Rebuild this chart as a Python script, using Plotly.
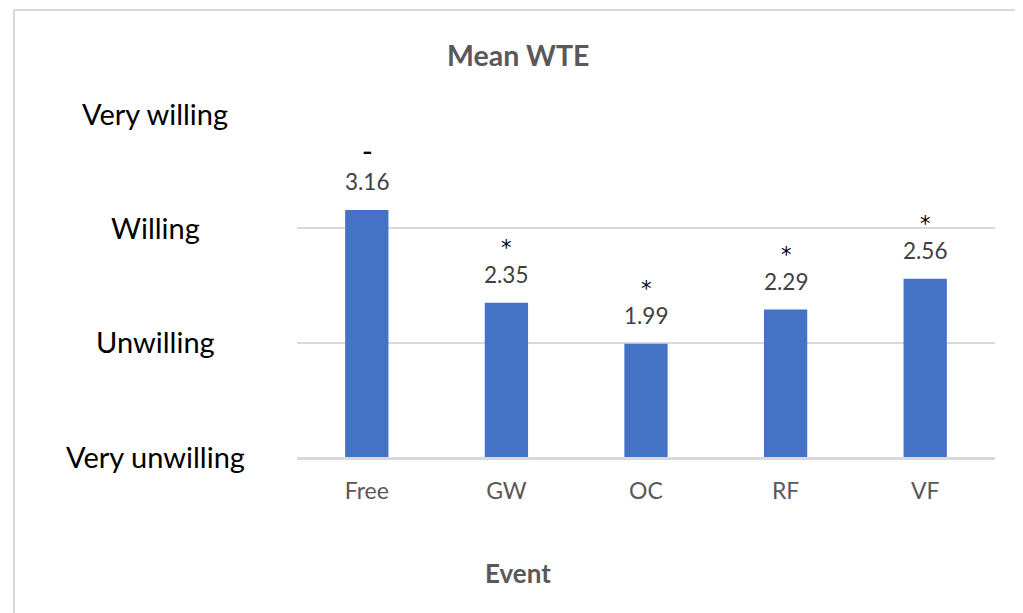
import plotly.graph_objects as go

categories = ["Free", "GW", "OC", "RF", "VF"]
values = [3.16, 2.35, 1.99, 2.29, 2.56]
marks = ["-", "*", "*", "*", "*"]
tick_vals = [1, 2, 3, 4]
tick_text = ["Very unwilling", "Unwilling", "Willing", "Very willing"]

FONT = "Lato, Carlito, Calibri, sans-serif"

# page offset (body margin) and target screen geometry
OX, OY = 8, 8
W, H = 1023 - OX, 613 - OY
PX0, PX1 = 297, 995      # plot area x (screen)
PY0, PY1 = 114, 457      # plot area y (screen)
L = PX0 - OX
R = W - (PX1 - OX)
T = PY0 - OY
B = H - (PY1 - OY)
pw = PX1 - PX0
ph = PY1 - PY0


def px(x):
    return (x - PX0) / pw


def py(y):
    return (PY1 - y) / ph


fig = go.Figure()
fig.add_trace(go.Bar(
    x=categories, y=values, base=0,
    marker=dict(color="#4472C4", line=dict(width=0)),
    hoverinfo="skip", cliponaxis=False,
))

annotations = []
for c, v, m in zip(categories, values, marks):
    if m == "*":
        mark_style = "font-family:DejaVu Sans;font-size:21px;color:#000000"
    else:
        mark_style = "font-size:30px;color:#000000"
    txt = (f"<span style='{mark_style}'>{m}</span><br>"
           f"<span style='font-size:22.5px;color:#404040'>{v:.2f}</span>")
    annotations.append(dict(x=c, y=v, text=txt, showarrow=False,
                            yanchor="bottom", yshift=13,
                            font=dict(family=FONT, size=21.5, color="#404040")))

for tv, tt in zip(tick_vals, tick_text):
    annotations.append(dict(xref="paper", x=px(155), yref="y", y=tv,
                            text=tt, showarrow=False,
                            xanchor="center", yanchor="middle", yshift=1,
                            font=dict(family=FONT, size=29, color="#000000")))

annotations.append(dict(xref="paper", x=px(517.5), yref="paper", y=py(573),
                        text="<b>Event</b>", showarrow=False,
                        xanchor="center", yanchor="middle",
                        font=dict(family=FONT, size=26, color="#595959")))
annotations.append(dict(xref="paper", x=px(517.5), yref="paper", y=py(55),
                        text="<b>Mean WTE</b>", showarrow=False,
                        xanchor="center", yanchor="middle",
                        font=dict(family=FONT, size=28.5, color="#595959")))

fig.update_layout(
    width=W, height=H,
    margin=dict(l=L, r=R, t=T, b=B, pad=0),
    paper_bgcolor="white", plot_bgcolor="white",
    showlegend=False,
    bargap=0.69,
    xaxis=dict(
        type="category",
        showgrid=False, zeroline=False,
        showline=True, linecolor="#d9d9d9", linewidth=2.5,
        ticks="", ticklabelstandoff=12,
        tickfont=dict(family=FONT, size=23, color="#595959"),
    ),
    yaxis=dict(
        range=[1, 4],
        tickvals=tick_vals, showticklabels=False,
        showgrid=True, gridcolor="#d9d9d9", gridwidth=2,
        zeroline=False, showline=False, ticks="",
    ),
    annotations=annotations,
    shapes=[dict(type="rect", xref="paper", yref="paper",
                 x0=px(14), x1=px(1021), y0=py(640), y1=py(10),
                 line=dict(color="#d9d9d9", width=2), layer="below")],
)

fig.write_html("out.html")
